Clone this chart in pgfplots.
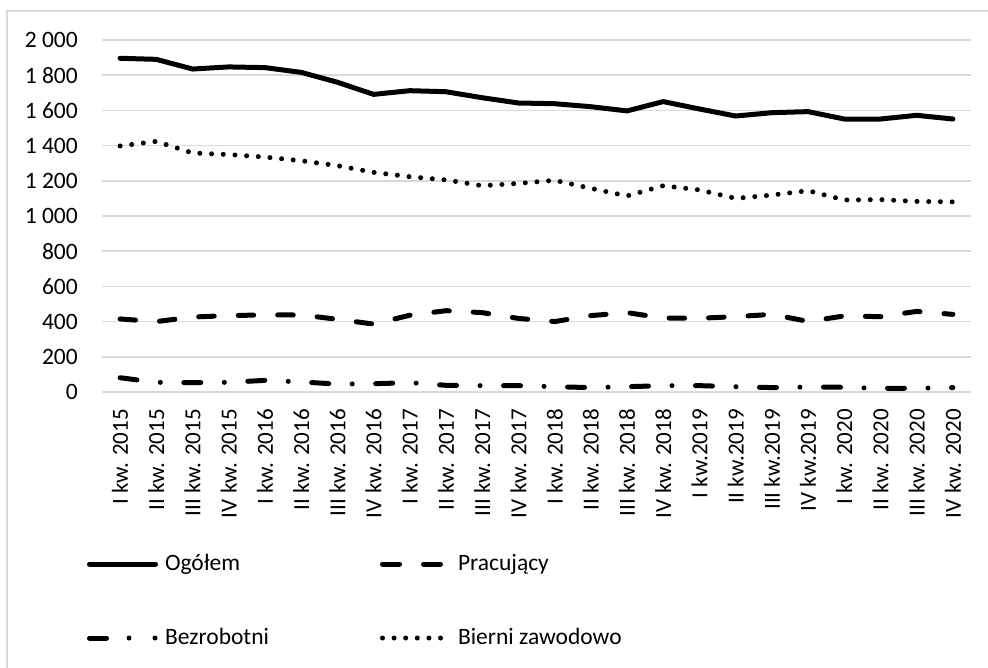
\documentclass[border=0pt]{standalone}
\usepackage{pgfplots}
\pgfplotsset{compat=1.18}
\usepackage{fontspec}
\setmainfont{Carlito}

\pgfplotstableread{
x ogolem pracujacy bezrobotni bierni
0  1896 415 81 1398
1  1890 400 55 1424
2  1835 426 53 1358
3  1847 434 55 1349
4  1843 438 66 1335
5  1816 438 57 1314
6  1760 413 45 1286
7  1691 386 47 1248
8  1712 436 53 1223
9  1706 462 38 1205
10 1672 451 36 1172
11 1642 418 36 1185
12 1638 400 30 1203
13 1621 434 25 1157
14 1597 451 30 1114
15 1650 420 36 1172
16 1608 419 36 1148
17 1568 428 30 1100
18 1587 441 25 1119
19 1593 401 28 1144
20 1551 432 27 1091
21 1551 428 21 1093
22 1572 458 21 1083
23 1551 441 25 1080
}\datatable

\begin{document}
\begin{tikzpicture}[x=1pt,y=1pt]
\useasboundingbox (0,0) rectangle (988,668);
\draw[color=black!15, line width=1.5pt] (7,-2) -- (7,657) -- (990,657);
\begin{axis}[
  at={(102pt,276pt)}, anchor=south west,
  scale only axis, width=869pt, height=352pt,
  xmin=-0.5, xmax=23.5, ymin=0, ymax=2000,
  axis line style={draw=none},
  major tick length=0pt,
  ymajorgrids, grid style={draw=black!15, line width=1.5pt},
  ytick={0,200,...,2000},
  yticklabels={0,200,400,600,800,{1~000},{1~200},{1~400},{1~600},{1~800},{2~000}},
  xtick={0,...,23},
  xticklabels={I kw. 2015, II kw. 2015, III kw. 2015, IV kw. 2015, I kw. 2016, II kw. 2016, III kw. 2016, IV kw. 2016, I kw. 2017, II kw. 2017, III kw. 2017, IV kw. 2017, I kw. 2018, II kw. 2018, III kw. 2018, IV kw. 2018, I kw.2019, II kw.2019, III kw.2019, IV kw.2019, I kw. 2020, II kw. 2020, III kw. 2020, IV kw. 2020},
  yticklabel style={font=\fontsize{23.5}{23.5}\selectfont, anchor=east, inner sep=0pt},
  yticklabel shift=24pt,
  xticklabel style={font=\fontsize{23}{23}\selectfont, rotate=90, anchor=east, inner sep=0pt},
  xticklabel shift=17pt,
  clip=false,
  legend columns=2,
  legend cell align=left,
  legend style={at={(axis description cs:-0.01726,-0.4574)}, anchor=north west,
    draw=none, fill=none, inner sep=0pt, outer sep=0pt, column sep=0pt, row sep=52pt,
    nodes={inner sep=0pt, anchor=west, text height=17pt, text depth=5pt, font=\fontsize{23.5}{23.5}\selectfont}},
]
\addplot[black, line width=5pt, line cap=round, line join=round,
  legend image code/.code={\path[draw=none, fill=none] (0pt,-3pt) rectangle (78pt,3pt);
    \draw[black, solid, line width=5pt, line cap=round] (2.5pt,0pt) -- (68.5pt,0pt);}]
  table[x=x, y=ogolem] {\datatable};
\addlegendentry{\makebox[215pt][l]{Ogółem}}
\addplot[black, line width=5pt, line cap=round, line join=round, dash pattern=on 15.5pt off 24pt,
  legend image code/.code={\path[draw=none, fill=none] (0pt,-3pt) rectangle (78pt,3pt);
    \draw[black, line width=5pt, line cap=round, dash pattern=on 17pt off 24pt] (2.5pt,0pt) -- (60.5pt,0pt);}]
  table[x=x, y=pracujacy] {\datatable};
\addlegendentry{Pracujący}
\addplot[black, line width=5pt, line cap=round, line join=round, dash pattern=on 17pt off 23.5pt on 0pt off 23.5pt,
  legend image code/.code={\path[draw=none, fill=none] (0pt,-3pt) rectangle (78pt,3pt);
    \draw[black, line width=5pt, line cap=round, dash pattern=on 17pt off 22.5pt on 0pt off 26pt on 0pt off 100pt] (2.5pt,0pt) -- (70pt,0pt);}]
  table[x=x, y=bezrobotni] {\datatable};
\addlegendentry{\makebox[215pt][l]{Bezrobotni}}
\addplot[black, line width=5pt, line cap=round, line join=round, dash pattern=on 0pt off 11.7pt,
  legend image code/.code={\path[draw=none, fill=none] (0pt,-3pt) rectangle (78pt,3pt);
    \draw[black, line width=5pt, line cap=round, dash pattern=on 0pt off 11.6pt] (2.5pt,0pt) -- (61pt,0pt);}]
  table[x=x, y=bierni] {\datatable};
\addlegendentry{Bierni zawodowo}
\end{axis}
\end{tikzpicture}
\end{document}
